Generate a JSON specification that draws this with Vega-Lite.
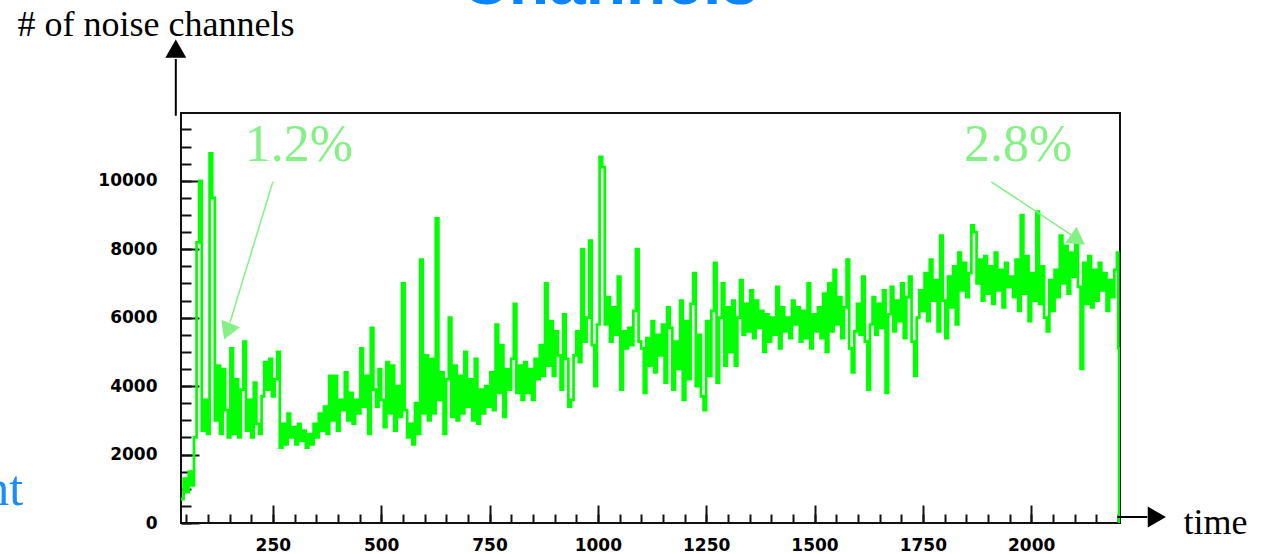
{
  "$schema": "https://vega.github.io/schema/vega-lite/v6.json",
  "width": 939,
  "height": 410,
  "autosize": {"type": "none"},
  "padding": {"left": 181, "top": 113, "right": 145, "bottom": 31},
  "background": "white",
  "config": {
    "view": {"stroke": "#111111", "strokeWidth": 2},
    "axis": {"grid": false, "domain": false, "labelFlush": false, "labelOverlap": false}
  },
  "datasets": {
    "noise": [
      {"t":38,"n":700},{"t":44,"n":1300},{"t":50,"n":900},{"t":56,"n":1500},{"t":62,"n":1100},{"t":68,"n":2500},{"t":74,"n":8200},{"t":80,"n":10000},{"t":86,"n":2700},{"t":92,"n":3600},{"t":98,"n":2600},{"t":104,"n":10800},{"t":110,"n":9500},{"t":116,"n":3000},{"t":122,"n":4600},{"t":128,"n":2600},{"t":134,"n":4500},{"t":140,"n":3300},{"t":146,"n":2500},{"t":152,"n":5100},{"t":158,"n":2600},{"t":164,"n":4200},{"t":170,"n":2500},{"t":176,"n":3900},{"t":182,"n":5300},{"t":188,"n":2700},{"t":194,"n":3600},{"t":200,"n":2500},{"t":206,"n":4100},{"t":212,"n":2900},{"t":218,"n":2600},{"t":224,"n":3700},{"t":230,"n":4700},{"t":236,"n":3900},{"t":242,"n":4800},{"t":248,"n":3700},{"t":254,"n":4200},{"t":260,"n":5000},{"t":266,"n":2200},{"t":272,"n":2900},{"t":278,"n":2300},{"t":284,"n":3200},{"t":290,"n":2500},{"t":296,"n":2800},{"t":302,"n":2300},{"t":308,"n":2900},{"t":314,"n":2400},{"t":320,"n":2700},{"t":326,"n":2200},{"t":332,"n":2600},{"t":338,"n":2300},{"t":344,"n":2900},{"t":350,"n":2500},{"t":356,"n":3200},{"t":362,"n":2700},{"t":368,"n":3400},{"t":374,"n":2600},{"t":380,"n":4300},{"t":386,"n":3000},{"t":392,"n":4300},{"t":398,"n":2700},{"t":404,"n":3600},{"t":410,"n":3300},{"t":416,"n":4400},{"t":422,"n":3000},{"t":428,"n":3800},{"t":434,"n":2900},{"t":440,"n":3600},{"t":446,"n":3200},{"t":452,"n":5100},{"t":458,"n":3400},{"t":464,"n":4300},{"t":470,"n":2600},{"t":476,"n":5700},{"t":482,"n":3900},{"t":488,"n":3400},{"t":494,"n":4500},{"t":500,"n":3600},{"t":506,"n":2800},{"t":512,"n":4700},{"t":518,"n":3200},{"t":524,"n":4600},{"t":530,"n":2700},{"t":536,"n":4000},{"t":542,"n":3100},{"t":548,"n":7000},{"t":554,"n":3300},{"t":560,"n":2500},{"t":566,"n":2900},{"t":572,"n":2300},{"t":578,"n":3500},{"t":584,"n":2600},{"t":590,"n":7700},{"t":596,"n":3200},{"t":602,"n":4900},{"t":608,"n":3000},{"t":614,"n":4800},{"t":620,"n":3200},{"t":626,"n":8900},{"t":632,"n":3600},{"t":638,"n":4400},{"t":644,"n":2600},{"t":650,"n":4200},{"t":656,"n":6000},{"t":662,"n":3100},{"t":668,"n":4600},{"t":674,"n":3000},{"t":680,"n":4300},{"t":686,"n":3200},{"t":692,"n":5000},{"t":698,"n":3400},{"t":704,"n":4200},{"t":710,"n":3000},{"t":716,"n":4800},{"t":722,"n":2900},{"t":728,"n":3900},{"t":734,"n":3200},{"t":740,"n":4000},{"t":746,"n":3400},{"t":752,"n":4400},{"t":758,"n":3300},{"t":764,"n":5800},{"t":770,"n":3800},{"t":776,"n":5200},{"t":782,"n":3100},{"t":788,"n":4500},{"t":794,"n":3900},{"t":800,"n":4800},{"t":806,"n":6400},{"t":812,"n":3800},{"t":818,"n":4600},{"t":824,"n":3600},{"t":830,"n":4700},{"t":836,"n":3800},{"t":842,"n":4500},{"t":848,"n":3600},{"t":854,"n":4800},{"t":860,"n":4200},{"t":866,"n":5200},{"t":872,"n":4300},{"t":878,"n":7000},{"t":884,"n":4600},{"t":890,"n":5900},{"t":896,"n":4300},{"t":902,"n":5600},{"t":908,"n":4900},{"t":914,"n":3900},{"t":920,"n":6100},{"t":926,"n":4800},{"t":932,"n":3400},{"t":938,"n":3600},{"t":944,"n":4900},{"t":950,"n":5600},{"t":956,"n":4700},{"t":962,"n":8000},{"t":968,"n":5300},{"t":974,"n":6000},{"t":980,"n":8250},{"t":986,"n":5200},{"t":992,"n":4000},{"t":998,"n":5800},{"t":1004,"n":10700},{"t":1010,"n":10400},{"t":1016,"n":5800},{"t":1022,"n":6600},{"t":1028,"n":5300},{"t":1034,"n":6300},{"t":1040,"n":5500},{"t":1046,"n":7200},{"t":1052,"n":3900},{"t":1058,"n":5600},{"t":1064,"n":5100},{"t":1070,"n":5700},{"t":1076,"n":5200},{"t":1082,"n":6200},{"t":1088,"n":8000},{"t":1094,"n":5300},{"t":1100,"n":5100},{"t":1106,"n":3800},{"t":1112,"n":5400},{"t":1118,"n":4600},{"t":1124,"n":5900},{"t":1130,"n":4400},{"t":1136,"n":5500},{"t":1142,"n":4900},{"t":1148,"n":5800},{"t":1154,"n":4100},{"t":1160,"n":6300},{"t":1166,"n":5700},{"t":1172,"n":3900},{"t":1178,"n":5300},{"t":1184,"n":4500},{"t":1190,"n":6500},{"t":1196,"n":3600},{"t":1202,"n":5900},{"t":1208,"n":4200},{"t":1214,"n":6400},{"t":1220,"n":7300},{"t":1226,"n":4000},{"t":1232,"n":5500},{"t":1238,"n":3700},{"t":1244,"n":3300},{"t":1250,"n":5900},{"t":1256,"n":4300},{"t":1262,"n":6200},{"t":1268,"n":7600},{"t":1274,"n":4100},{"t":1280,"n":6000},{"t":1286,"n":7000},{"t":1292,"n":4600},{"t":1298,"n":6300},{"t":1304,"n":5000},{"t":1310,"n":6500},{"t":1316,"n":4600},{"t":1322,"n":6000},{"t":1328,"n":7100},{"t":1334,"n":5500},{"t":1340,"n":6400},{"t":1346,"n":5600},{"t":1352,"n":6800},{"t":1358,"n":5400},{"t":1364,"n":6500},{"t":1370,"n":5700},{"t":1376,"n":6200},{"t":1382,"n":5000},{"t":1388,"n":6100},{"t":1394,"n":5300},{"t":1400,"n":6000},{"t":1406,"n":5500},{"t":1412,"n":6900},{"t":1418,"n":5100},{"t":1424,"n":6300},{"t":1430,"n":5600},{"t":1436,"n":6000},{"t":1442,"n":5400},{"t":1448,"n":6500},{"t":1454,"n":5800},{"t":1460,"n":6300},{"t":1466,"n":5300},{"t":1472,"n":6200},{"t":1478,"n":5400},{"t":1484,"n":7000},{"t":1490,"n":5100},{"t":1496,"n":6100},{"t":1502,"n":5600},{"t":1508,"n":6300},{"t":1514,"n":5400},{"t":1520,"n":6700},{"t":1526,"n":5000},{"t":1532,"n":7000},{"t":1538,"n":5600},{"t":1544,"n":7400},{"t":1550,"n":5800},{"t":1556,"n":6600},{"t":1562,"n":5400},{"t":1568,"n":6300},{"t":1574,"n":7700},{"t":1580,"n":5100},{"t":1586,"n":4400},{"t":1592,"n":5600},{"t":1598,"n":6400},{"t":1604,"n":5500},{"t":1610,"n":7200},{"t":1616,"n":5300},{"t":1622,"n":3900},{"t":1628,"n":5800},{"t":1634,"n":6600},{"t":1640,"n":5500},{"t":1646,"n":6400},{"t":1652,"n":5700},{"t":1658,"n":6800},{"t":1664,"n":3800},{"t":1670,"n":6100},{"t":1676,"n":6900},{"t":1682,"n":5600},{"t":1688,"n":6500},{"t":1694,"n":5900},{"t":1700,"n":7000},{"t":1706,"n":5400},{"t":1712,"n":6600},{"t":1718,"n":7200},{"t":1724,"n":5300},{"t":1730,"n":4300},{"t":1736,"n":6000},{"t":1742,"n":6800},{"t":1748,"n":6200},{"t":1754,"n":7300},{"t":1760,"n":5900},{"t":1766,"n":7700},{"t":1772,"n":6500},{"t":1778,"n":7100},{"t":1784,"n":5600},{"t":1790,"n":8400},{"t":1796,"n":6500},{"t":1802,"n":5400},{"t":1808,"n":7200},{"t":1814,"n":6300},{"t":1820,"n":7500},{"t":1826,"n":5800},{"t":1832,"n":7900},{"t":1838,"n":6800},{"t":1844,"n":7600},{"t":1850,"n":6600},{"t":1856,"n":7300},{"t":1862,"n":8700},{"t":1868,"n":8500},{"t":1874,"n":7000},{"t":1880,"n":7700},{"t":1886,"n":6500},{"t":1892,"n":7800},{"t":1898,"n":6700},{"t":1904,"n":7500},{"t":1910,"n":6400},{"t":1916,"n":7900},{"t":1922,"n":6800},{"t":1928,"n":7400},{"t":1934,"n":6300},{"t":1940,"n":7600},{"t":1946,"n":6900},{"t":1952,"n":7200},{"t":1958,"n":6600},{"t":1964,"n":7700},{"t":1970,"n":6200},{"t":1976,"n":9000},{"t":1982,"n":6700},{"t":1988,"n":7800},{"t":1994,"n":5900},{"t":2000,"n":7300},{"t":2006,"n":6500},{"t":2012,"n":9100},{"t":2018,"n":6400},{"t":2024,"n":7500},{"t":2030,"n":6000},{"t":2036,"n":5600},{"t":2042,"n":7100},{"t":2048,"n":6200},{"t":2054,"n":7400},{"t":2060,"n":6600},{"t":2066,"n":8400},{"t":2072,"n":7000},{"t":2078,"n":8100},{"t":2084,"n":6700},{"t":2090,"n":7900},{"t":2096,"n":7200},{"t":2102,"n":8200},{"t":2108,"n":6900},{"t":2114,"n":4500},{"t":2120,"n":7600},{"t":2126,"n":6400},{"t":2132,"n":7800},{"t":2138,"n":6300},{"t":2144,"n":7400},{"t":2150,"n":6500},{"t":2156,"n":7600},{"t":2162,"n":6800},{"t":2168,"n":7300},{"t":2174,"n":6200},{"t":2180,"n":7100},{"t":2186,"n":6600},{"t":2192,"n":7400},{"t":2198,"n":7900},{"t":2201,"n":5100},{"t":2203,"n":0}
    ]
  },
  "layer": [
    {
      "data": {"name": "noise"},
      "mark": {"type": "line", "interpolate": "step-after", "color": "#00ff00", "strokeWidth": 2.7, "clip": true},
      "encoding": {
        "x": {
          "field": "t", "type": "quantitative",
          "scale": {"domain": [38, 2205], "nice": false, "zero": false},
          "axis": {
            "orient": "bottom", "format": "d",
            "values": [250, 500, 750, 1000, 1250, 1500, 1750, 2000],
            "tickSize": -18, "tickWidth": 2, "tickColor": "#111111",
            "labelPadding": 32, "labelFont": "DejaVu Sans", "labelFontWeight": "bold", "labelFontSize": 17, "labelColor": "#000000",
            "title": "time", "titleX": 1002, "titleY": 10, "titleAlign": "left", "titleBaseline": "alphabetic",
            "titleFont": "Liberation Serif", "titleFontSize": 36, "titleFontWeight": "normal", "titleColor": "#000000"
          }
        },
        "y": {
          "field": "n", "type": "quantitative",
          "scale": {"domain": [0, 11980], "nice": false, "zero": false},
          "axis": {
            "orient": "left", "format": "d",
            "values": [0, 2000, 4000, 6000, 8000, 10000],
            "tickSize": -18, "tickWidth": 2, "tickColor": "#111111",
            "labelPadding": 42, "labelFont": "DejaVu Sans", "labelFontWeight": "bold", "labelFontSize": 17, "labelColor": "#000000",
            "title": "# of noise channels", "titleAngle": 0, "titleX": -164, "titleY": -78, "titleAlign": "left", "titleBaseline": "alphabetic",
            "titleFont": "Liberation Serif", "titleFontSize": 36, "titleFontWeight": "normal", "titleColor": "#000000"
          }
        }
      }
    },
    {
      "data": {"values": [
        {"t": 310, "n": 10583, "label": "1.2%"},
        {"t": 1970, "n": 10583, "label": "2.8%"}
      ]},
      "mark": {"type": "text", "font": "Liberation Serif", "fontSize": 52, "color": "#85f085", "align": "center", "baseline": "alphabetic"},
      "encoding": {
        "x": {
          "field": "t", "type": "quantitative",
          "axis": {
            "orient": "bottom",
            "values": [50,100,150,200,250,300,350,400,450,500,550,600,650,700,750,800,850,900,950,1000,1050,1100,1150,1200,1250,1300,1350,1400,1450,1500,1550,1600,1650,1700,1750,1800,1850,1900,1950,2000,2050,2100,2150,2200],
            "tickSize": -9, "tickWidth": 2, "tickColor": "#111111", "labels": false, "title": null
          }
        },
        "y": {
          "field": "n", "type": "quantitative",
          "axis": {
            "orient": "left",
            "values": [0,500,1000,1500,2000,2500,3000,3500,4000,4500,5000,5500,6000,6500,7000,7500,8000,8500,9000,9500,10000,10500,11000,11500],
            "tickSize": -10, "tickWidth": 2, "tickColor": "#111111", "labels": false, "title": null
          }
        },
        "text": {"field": "label"}
      }
    },
    {
      "data": {"values": [
        {"t": 250, "n": 9970, "t2": 151, "n2": 5860},
        {"t": 1908, "n": 9970, "t2": 2095, "n2": 8397}
      ]},
      "mark": {"type": "rule", "color": "#85f085", "strokeWidth": 1.5},
      "encoding": {
        "x": {"field": "t", "type": "quantitative", "axis": null},
        "y": {"field": "n", "type": "quantitative", "axis": null},
        "x2": {"field": "t2"},
        "y2": {"field": "n2"}
      }
    },
    {
      "data": {"values": [{"t": 145, "n": 5598}]},
      "mark": {"type": "point", "shape": "triangle-up", "angle": 202, "size": 400, "filled": true, "color": "#85f085", "opacity": 1},
      "encoding": {
        "x": {"field": "t", "type": "quantitative", "axis": null},
        "y": {"field": "n", "type": "quantitative", "axis": null}
      }
    },
    {
      "data": {"values": [{"t": 2103, "n": 8405}]},
      "mark": {"type": "point", "shape": "triangle-up", "angle": 5, "size": 400, "filled": true, "color": "#85f085", "opacity": 1},
      "encoding": {
        "x": {"field": "t", "type": "quantitative", "axis": null},
        "y": {"field": "n", "type": "quantitative", "axis": null}
      }
    },
    {
      "data": {"values": [
        {"t": 26, "n": 11900, "t2": 26, "n2": 13557},
        {"t": 2199, "n": 175, "t2": 2268, "n2": 175}
      ]},
      "mark": {"type": "rule", "color": "#000000", "strokeWidth": 2},
      "encoding": {
        "x": {"field": "t", "type": "quantitative", "axis": null},
        "y": {"field": "n", "type": "quantitative", "axis": null},
        "x2": {"field": "t2"},
        "y2": {"field": "n2"}
      }
    },
    {
      "data": {"values": [{"t": 26, "n": 13863}]},
      "mark": {"type": "point", "shape": "triangle-up", "angle": 0, "size": 440, "filled": true, "color": "#000000", "opacity": 1},
      "encoding": {
        "x": {"field": "t", "type": "quantitative", "axis": null},
        "y": {"field": "n", "type": "quantitative", "axis": null}
      }
    },
    {
      "data": {"values": [{"t": 2290, "n": 175}]},
      "mark": {"type": "point", "shape": "triangle-up", "angle": 90, "size": 440, "filled": true, "color": "#000000", "opacity": 1},
      "encoding": {
        "x": {"field": "t", "type": "quantitative", "axis": null},
        "y": {"field": "n", "type": "quantitative", "axis": null}
      }
    },
    {
      "data": {"values": [{"t": -326, "n": 525, "label": "nt"}]},
      "mark": {"type": "text", "font": "Liberation Serif", "fontSize": 50, "color": "#1a8cff", "align": "right", "baseline": "alphabetic"},
      "encoding": {
        "x": {"field": "t", "type": "quantitative", "axis": null},
        "y": {"field": "n", "type": "quantitative", "axis": null},
        "text": {"field": "label"}
      }
    },
    {
      "data": {"values": [{"t": 1027, "n": 15170, "label": "Channels"}]},
      "mark": {"type": "text", "font": "Liberation Sans", "fontWeight": "bold", "fontSize": 66, "color": "#0a84ff", "align": "center", "baseline": "alphabetic"},
      "encoding": {
        "x": {"field": "t", "type": "quantitative", "axis": null},
        "y": {"field": "n", "type": "quantitative", "axis": null},
        "text": {"field": "label"}
      }
    }
  ],
  "resolve": {"axis": {"x": "independent", "y": "independent"}}
}
